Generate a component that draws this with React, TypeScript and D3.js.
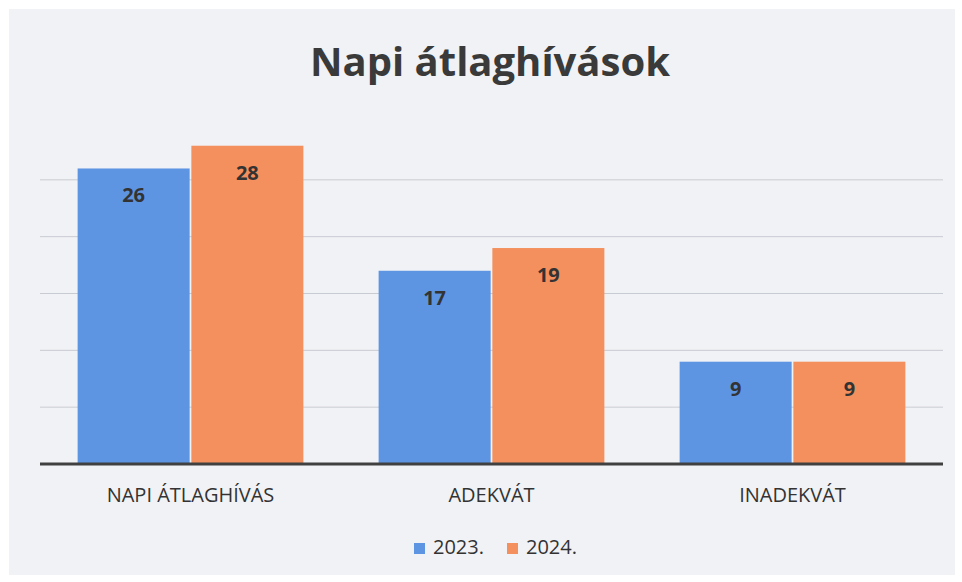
import React from "react";
import * as d3 from "d3";

const categories = ["NAPI ÁTLAGHÍVÁS", "ADEKVÁT", "INADEKVÁT"];
const seriesNames = ["2023.", "2024."];
const values2023 = [26, 17, 9];
const values2024 = [28, 19, 9];
const yTicks = [5, 10, 15, 20, 25];
const title = "Napi átlaghívások";
const colors = ["#5d95e3", "#f4905d"];

const W = 962;
const H = 582;
const plotLeft = 40;
const plotRight = 943;
const baseY = 464;
const topY = 123;

export default function App() {
  const series = [values2023, values2024];
  const x0 = d3.scaleBand<string>().domain(categories).range([plotLeft, plotRight]).paddingInner(0.25).paddingOuter(0.125);
  const x1 = d3.scaleBand<string>().domain(seriesNames).range([0, x0.bandwidth()]).paddingInner(0.015);
  const y = d3.scaleLinear().domain([0, 30]).range([baseY, topY]);
  const font = "'Open Sans', 'Noto Sans', sans-serif";

  return (
    <div style={{ position: "absolute", left: 0, top: 0 }}>
      <svg width={W} height={H} style={{ display: "block" }}>
        <rect x={0} y={0} width={W} height={H} fill="#ffffff" />
        <rect x={9} y={9} width={946} height={566} fill="#f1f2f5" />
        <text x={490} y={76} textAnchor="middle" fontFamily={font} fontWeight={700} fontSize={40} fill="#3a3a3a">
          {title}
        </text>
        {yTicks.map((t) => (
          <line key={t} x1={plotLeft} x2={plotRight} y1={y(t)} y2={y(t)} stroke="#c9cbd2" strokeWidth={1} />
        ))}
        {categories.map((c, i) => (
          <g key={c} transform={`translate(${x0(c)},0)`}>
            {seriesNames.map((s, j) => {
              const v = series[j][i];
              const bx = x1(s)!;
              const bw = x1.bandwidth();
              return (
                <g key={s}>
                  <rect x={bx} y={y(v)} width={bw} height={baseY - y(v)} fill={colors[j]} />
                  <text x={bx + bw / 2} y={y(v) + 34} textAnchor="middle" fontFamily={font} fontWeight={700} fontSize={20} fill="#333333">
                    {v}
                  </text>
                </g>
              );
            })}
            <text x={x0.bandwidth() / 2} y={502} textAnchor="middle" fontFamily={font} fontSize={20} fill="#333333">
              {c}
            </text>
          </g>
        ))}
        <line x1={plotLeft} x2={plotRight} y1={baseY} y2={baseY} stroke="#404040" strokeWidth={3} />
        {seriesNames.map((s, j) => {
          const lx = j === 0 ? 414 : 507;
          return (
            <g key={s}>
              <rect x={lx} y={543} width={11} height={11} fill={colors[j]} />
              <text x={lx + 19} y={554} fontFamily={font} fontSize={20} fill="#333333">
                {s}
              </text>
            </g>
          );
        })}
      </svg>
    </div>
  );
}
